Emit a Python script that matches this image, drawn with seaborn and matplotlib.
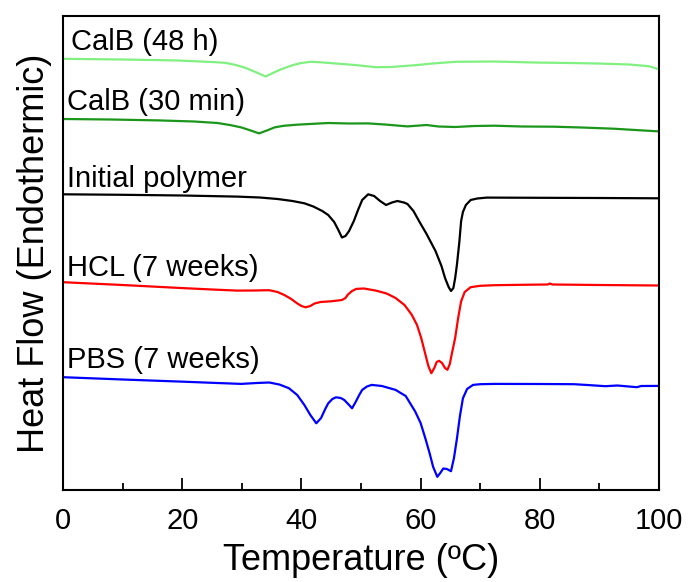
import matplotlib
matplotlib.use("Agg")
import matplotlib.pyplot as plt
from matplotlib.ticker import MultipleLocator
import seaborn as sns
import pandas as pd

# ---------------- data (heat flow in arbitrary units, curves offset) ----------------
calb48_T = [0, 10, 19.3, 25, 27.2, 29, 30.6, 32.3, 34.0, 35.2, 36.5, 38.5, 40, 41.5, 43, 45.8,
            49, 52.5, 55, 59.1, 62, 65.8, 72.4, 79, 85, 89.7, 95, 98.3, 99.7, 100]
calb48_H = [431.2, 430.5, 429.5, 428, 427.2, 425, 422.2, 418, 413.5, 417, 420.5, 424.8, 427, 428.2,
            427.8, 426.5, 425, 422.8, 423, 424.8, 426.5, 428.2, 428.5, 427.5, 427, 426.5, 425.5,
            423.8, 421.2, 421]

calb30_T = [0, 8, 16, 22, 25.9, 28, 29.9, 31.5, 32.9, 34.2, 35.5, 37, 39.2, 42, 44.5, 48, 51.2,
            54, 57.8, 61, 63, 65.8, 69, 72.4, 77, 82.4, 87, 92.4, 96, 100]
calb30_H = [371, 370.5, 369.6, 368.5, 367, 365, 362.6, 359.5, 356.6, 359.5, 362.6, 364.2, 365.3,
            366.2, 367, 366.5, 366.6, 365.5, 363.6, 365, 363.5, 363, 364, 364.3, 363.5, 363.3,
            362.5, 361.3, 360, 358.6]

init_T = [0, 10, 20, 29.2, 33, 36, 38.5, 40.5, 42, 43.5, 44.5, 45.5, 46.2, 46.8, 47.4, 48, 48.8,
          49.5, 50.2, 51.2, 52.2, 53.2, 54.2, 55.2, 56.1, 57.2, 57.8, 58.8, 59.8, 61, 62.5, 63.5,
          64.1, 64.7, 65.1, 65.5, 65.8, 66.1, 66.5, 66.8, 67.1, 67.6, 68.4, 69.5, 71.1, 80, 90, 100]
init_H = [295.7, 295.2, 294.5, 293.4, 292.5, 291, 289, 286.7, 283.5, 279, 275, 268, 260, 252.5,
          254, 259, 269, 280, 290, 295.7, 294, 289, 285, 287.5, 289, 287.5, 286, 279, 268.3, 256,
          239, 224, 212, 203, 199, 202, 212, 225.5, 248, 269, 278, 285, 290, 291.5, 292.4, 292.2,
          292, 291.7]

hcl_T = [0, 10, 19.4, 25, 29.2, 32, 34.6, 36, 37.2, 38.3, 39.2, 40, 40.7, 41.5, 42.2, 43.2, 45,
         46.8, 47.4, 47.8, 48.5, 49.2, 50.5, 52.5, 54.3, 55.8, 57.3, 58.5, 59.4, 60.1, 60.7, 61.3,
         61.8, 62.3, 62.7, 63.1, 63.6, 64.1, 64.5, 64.9, 65.3, 65.8, 66.3, 66.8, 67.4, 68.4, 70,
         72.4, 77, 81.3, 81.7, 82.1, 90, 100]
hcl_H = [207.8, 205, 202.1, 200.5, 199.4, 199.5, 199.8, 198, 194.8, 191, 187, 184, 182.7, 184,
         186.5, 188, 188.7, 190, 192, 195.4, 199, 201.1, 201.5, 199.4, 196.5, 192, 185, 175.4, 165,
         152, 138, 124, 116.8, 122, 128, 129.2, 127, 122, 120.2, 126, 138, 152, 172, 188.7, 198,
         202.8, 204.2, 204.8, 205.2, 205.5, 206.5, 205.5, 205, 204.5]

pbs_T = [0, 10, 19.3, 25, 29.9, 32.5, 34.6, 36.3, 37.9, 39.3, 40.5, 41.5, 42.5, 43.3, 44, 44.5,
         45.2, 45.8, 46.6, 47.2, 48, 48.5, 49.1, 49.7, 50.2, 51, 51.8, 53.5, 55.8, 57.5, 59.1, 60,
         60.8, 61.5, 62.1, 62.8, 63.3, 63.8, 64.4, 65.1, 65.6, 66.1, 66.6, 67.1, 67.8, 68.8, 70,
         72.4, 80, 85.7, 88, 91, 93, 96.3, 97, 100]
pbs_H = [112.8, 110.5, 108.5, 107.2, 106.1, 107, 107.5, 105.5, 101.8, 95, 85, 75, 66.7, 72, 81,
         86.7, 91, 92.7, 92, 90, 85, 81.7, 88, 95, 100.1, 103.5, 105.1, 104, 100.1, 94, 78.4, 67,
         51.6, 37, 23.2, 13.2, 17, 21.5, 21, 18.8, 32, 51.6, 74, 91.7, 101, 105.1, 105.8, 106.1,
         106, 105.8, 105, 103.8, 104.5, 102.8, 104, 104.1]

labels = ["CalB (48 h)", "CalB (30 min)", "Initial polymer", "HCL (7 weeks)", "PBS (7 weeks)"]
series_T = [calb48_T, calb30_T, init_T, hcl_T, pbs_T]
series_H = [calb48_H, calb30_H, init_H, hcl_H, pbs_H]
colors = ["#80f080", "#1a961a", "#000000", "#ff0000", "#0000ff"]
label_offsets = [(5.8, 6.3), (2.6, 6.5), (3.0, 5.5), (3.0, 4.8), (3.0, 6.6)]  # points

x_ticks = [0, 20, 40, 60, 80, 100]

# ---------------- plotting ----------------
sns.set_style("ticks")
plt.rcParams['font.family'] = ['Liberation Sans', 'DejaVu Sans']
plt.rcParams['text.color'] = 'black'
plt.rcParams['axes.labelcolor'] = 'black'
plt.rcParams['xtick.color'] = 'black'
plt.rcParams['ytick.color'] = 'black'

fig = plt.figure(figsize=(6.88, 5.82), dpi=100)
ax = fig.add_axes([63/688, 1 - 490/582, (659 - 63)/688, (490 - 16)/582])

for name, T, H, c in zip(labels, series_T, series_H, colors):
    df = pd.DataFrame({"T": T, "H": H})
    sns.lineplot(data=df, x="T", y="H", color=c, lw=1.6, sort=False, estimator=None, ax=ax,
                 solid_joinstyle="round")

for name, T, H, off in zip(labels, series_T, series_H, label_offsets):
    ax.annotate(name, xy=(T[0], H[0]), xytext=off, textcoords="offset points",
                ha="left", va="baseline", fontsize=21, color="black")

ax.set_xlim(0, 100)
ax.set_ylim(0, 474)
ax.set_xticks(x_ticks)
ax.xaxis.set_minor_locator(MultipleLocator(10))
ax.set_yticks([])
ax.tick_params(axis="x", which="major", direction="in", length=8.5, width=1.3,
               labelsize=21, pad=12, top=False, colors="black")
ax.tick_params(axis="x", which="minor", direction="in", length=5, width=1.3, top=False)
ax.tick_params(axis="y", left=False, right=False)
for s in ax.spines.values():
    s.set_linewidth(1.5)
    s.set_color("black")

ax.set_xlabel("Temperature (ºC)", fontsize=26, labelpad=6, color="black")
ax.set_ylabel("Heat Flow (Endothermic)", fontsize=26, labelpad=8, color="black")

fig.savefig("out.png", dpi=100)
